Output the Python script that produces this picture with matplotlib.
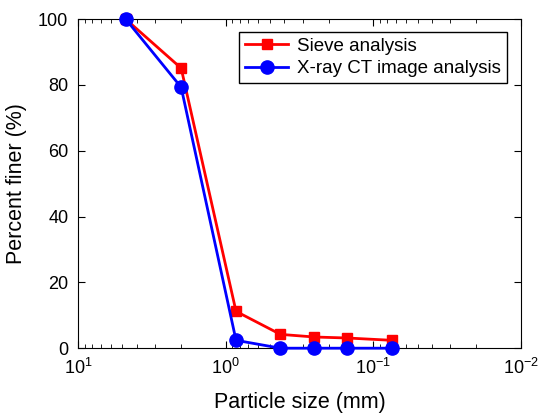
import numpy as np
import matplotlib
matplotlib.use("Agg")
import matplotlib.pyplot as plt
from matplotlib.ticker import LogLocator, FixedLocator

plt.rcParams['font.family'] = ['Liberation Sans', 'DejaVu Sans']

# particle sizes (mm) and percent finer
size_mm = [4.75, 2.0, 0.85, 0.425, 0.25, 0.15, 0.075]
sieve = [100, 85.1, 11.2, 4.2, 3.4, 3.1, 2.4]
xct = [100, 79.3, 2.4, 0.0, 0.0, 0.0, 0.0]

fig = plt.figure(figsize=(5.38, 4.17), dpi=100)
ax = fig.add_axes([0.145, 0.165, 0.823, 0.789])

ax.plot(size_mm, sieve, color='red', lw=2, marker='s', ms=7.5,
        label='Sieve analysis', clip_on=False, zorder=3)
ax.plot(size_mm, xct, color='blue', lw=2, marker='o', ms=9.5,
        label='X-ray CT image analysis', clip_on=False, zorder=4)

ax.set_xscale('log')
ax.set_xlim(10, 0.01)
ax.set_ylim(0, 100)
ax.set_yticks([0, 20, 40, 60, 80, 100])
ax.xaxis.set_major_locator(FixedLocator([10, 1, 0.1, 0.01]))
ax.xaxis.set_minor_locator(LogLocator(base=10, subs=np.arange(2, 10)))

ax.tick_params(which='both', direction='in', top=True, right=True, labelsize=13, pad=7)
ax.tick_params(which='major', length=5)
ax.tick_params(which='minor', length=3)

ax.set_xlabel('Particle size (mm)', fontsize=15.5, labelpad=10)
ax.set_ylabel('Percent finer (%)', fontsize=15.5, labelpad=8)

leg = ax.legend(loc='upper right', bbox_to_anchor=(0.99, 0.99), fontsize=13.5,
                fancybox=False, edgecolor='black', framealpha=1,
                handlelength=2.3, handletextpad=0.5, borderpad=0.3, labelspacing=0.3)
leg.get_frame().set_linewidth(1)

fig.savefig('out.png', dpi=100)
